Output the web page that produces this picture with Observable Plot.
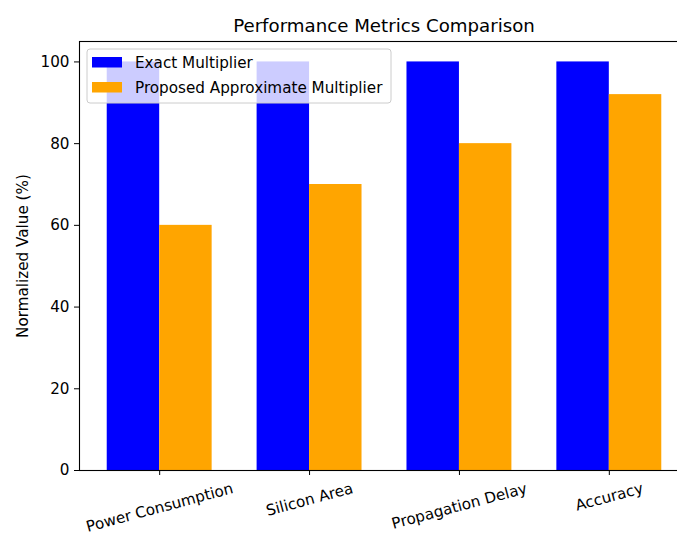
<!DOCTYPE html>
<html>
<head>
<meta charset="utf-8">
<script src="https://cdn.jsdelivr.net/npm/d3@7"></script>
<script src="https://cdn.jsdelivr.net/npm/@observablehq/plot@0.6"></script>
<style>
  html, body { margin: 0; padding: 0; background: #fff; overflow: hidden; }
  #wrap { position: relative; width: 689px; height: 536px; font-family: "DejaVu Sans", sans-serif; }
  #title { position: absolute; left: 79px; width: 610px; top: 15px; text-align: center;
           font-size: 18.2px; line-height: 22px; color: #000; }
  #chart { position: absolute; left: 0; top: 0; }
</style>
</head>
<body>
<div id="wrap">
  <div id="chart"></div>
  <div id="title">Performance Metrics Comparison</div>
</div>
<script>
const categories = ["Power Consumption", "Silicon Area", "Propagation Delay", "Accuracy"];
const exactValues = [100, 100, 100, 100];
const proposedValues = [60, 70, 80, 92];
const seriesNames = ["Exact Multiplier", "Proposed Approximate Multiplier"];
const seriesColors = ["#0000ff", "#ffa500"];
const yTicks = [0, 20, 40, 60, 80, 100];
const yLabel = "Normalized Value (%)";

const barWidth = 0.35;
const rows = categories.map((c, i) => ({ i, category: c, exact: exactValues[i], proposed: proposedValues[i] }));

const fontSize = 15.2;
const ctx = document.createElement("canvas").getContext("2d");
ctx.font = `${fontSize}px "DejaVu Sans"`;
const rot = 15 * Math.PI / 180;
const lineH = fontSize * 1.17;

const labelMarks = categories.map((c, i) => {
  const w = ctx.measureText(c).width;
  const halfH = (w * Math.sin(rot) + lineH * Math.cos(rot)) / 2;
  return Plot.text([c], {
    x: [i], text: d => d, frameAnchor: "bottom", dy: 9 + halfH,
    rotate: -15, textAnchor: "middle", lineAnchor: "middle", fill: "#000"
  });
});

const plot = Plot.plot({
  width: 689,
  height: 536,
  marginLeft: 79,
  marginRight: 0,
  marginTop: 41,
  marginBottom: 66,
  style: { fontFamily: "DejaVu Sans", fontSize: fontSize + "px", color: "#000", background: "#fff" },
  x: { type: "linear", domain: [-0.535, categories.length - 1 + 0.535] },
  y: { domain: [0, 105] },
  marks: [
    Plot.rect(rows, { x1: d => d.i - barWidth, x2: d => d.i, y1: 0, y2: "exact", fill: seriesColors[0] }),
    Plot.rect(rows, { x1: d => d.i, x2: d => d.i + barWidth, y1: 0, y2: "proposed", fill: seriesColors[1] }),
    Plot.frame({ stroke: "#000", strokeWidth: 1.1 }),
    Plot.axisY({ ticks: yTicks, tickSize: 5, tickPadding: 5, label: null, tickFormat: d => String(d) }),
    Plot.axisX({ ticks: categories.map((c, i) => i), tickSize: 5, tickFormat: () => "", label: null }),
    ...labelMarks,
    Plot.text([yLabel], { frameAnchor: "left", dx: -56, rotate: -90, text: d => d, fill: "#000",
                          textAnchor: "middle", lineAnchor: "middle" })
  ]
});

document.getElementById("chart").appendChild(plot);

// Legend (upper left, inside axes)
const svg = d3.select(plot);
const lg = svg.append("g").attr("font-family", "DejaVu Sans").attr("font-size", fontSize + "px")
  .attr("text-anchor", "start");
lg.append("rect").attr("x", 87).attr("y", 49).attr("width", 304).attr("height", 54)
  .attr("rx", 3).attr("fill", "#fff").attr("fill-opacity", 0.8)
  .attr("stroke", "#cccccc").attr("stroke-width", 1);
seriesNames.forEach((name, k) => {
  const cy = 62.5 + k * 25;
  lg.append("rect").attr("x", 92).attr("y", cy - 5.5).attr("width", 30).attr("height", 10.5)
    .attr("fill", seriesColors[k]);
  lg.append("text").attr("x", 135).attr("y", cy).attr("dy", "0.35em").attr("fill", "#000")
    .attr("text-anchor", "start").text(name);
});
</script>
</body>
</html>
